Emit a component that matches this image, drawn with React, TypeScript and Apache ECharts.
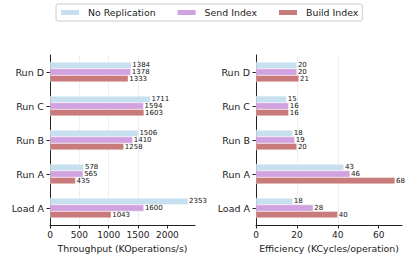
import React, { useEffect, useRef } from "react";
import * as echarts from "echarts";

const categories = ["Load A", "Run A", "Run B", "Run C", "Run D"];
const seriesNames = ["No Replication", "Send Index", "Build Index"];
const throughputNoRep = [2353, 578, 1506, 1711, 1384];
const throughputSend = [1600, 565, 1410, 1594, 1378];
const throughputBuild = [1043, 435, 1258, 1603, 1333];
const efficiencyNoRep = [18, 43, 18, 15, 20];
const efficiencySend = [28, 46, 19, 16, 20];
const efficiencyBuild = [40, 68, 20, 16, 21];
const throughputTicks = [0, 500, 1000, 1500, 2000];
const efficiencyTicks = [0, 20, 40, 60];

const colors = ["#c6e0f0", "#d0a2e0", "#c97a7a"];
const FONT = "DejaVu Sans";

export default function App() {
  const ref = useRef<HTMLDivElement>(null);
  useEffect(() => {
    if (!ref.current) return;
    const chart = echarts.init(ref.current, null, { renderer: "svg" });
    const tp = [throughputNoRep, throughputSend, throughputBuild];
    const ef = [efficiencyNoRep, efficiencySend, efficiencyBuild];
    const tpMax = Math.max(...tp.flat()) * 1.05;
    const efMax = Math.max(...ef.flat()) * 1.05;
    const mkX = (idx: number, max: number, interval: number, ticks: number[], name: string) => ({
      type: "value",
      gridIndex: idx,
      min: 0,
      max,
      interval,
      name,
      nameLocation: "middle",
      nameGap: 19,
      nameTextStyle: { fontFamily: FONT, fontSize: 9.4, color: "#222" },
      axisLine: { show: true, lineStyle: { color: "#222", width: 1 } },
      axisTick: { show: true, length: 3.5, lineStyle: { color: "#222" }, customValues: ticks },
      axisLabel: {
        fontFamily: FONT,
        fontSize: 9,
        color: "#222",
        margin: 5,
        hideOverlap: false,
        customValues: ticks,
        formatter: (v: number) => String(v),
      },
      splitLine: { show: true, showMaxLine: false, lineStyle: { color: "#ebebeb", width: 0.8 } },
    });
    const mkY = (idx: number) => ({
      type: "category",
      gridIndex: idx,
      data: categories,
      axisLine: { show: true, lineStyle: { color: "#222", width: 1 } },
      axisTick: { show: true, length: 3.5, alignWithLabel: true, lineStyle: { color: "#222" } },
      axisLabel: { fontFamily: FONT, fontSize: 9.5, color: "#222", margin: 6 },
      splitLine: { show: false },
    });
    const mkSeries = (idx: number, data: number[][]) =>
      data.map((d, i) => ({
        type: "bar",
        name: seriesNames[i],
        xAxisIndex: idx,
        yAxisIndex: idx,
        data: d,
        barGap: "0%",
        barCategoryGap: "41%",
        itemStyle: { color: colors[i], borderColor: "#fff", borderWidth: 0.4 },
        label: {
          show: true,
          position: "right",
          distance: 1,
          fontFamily: FONT,
          fontSize: 7,
          color: "#111",
        },
      }));
    chart.setOption({
      animation: false,
      legend: {
        data: seriesNames,
        left: 56,
        top: 4,
        padding: [4, 4, 4, 3],
        itemGap: 20,
        itemWidth: 20,
        itemHeight: 7,
        icon: "rect",
        borderColor: "#cccccc",
        borderWidth: 1,
        borderRadius: 2,
        textStyle: { fontFamily: FONT, fontSize: 9.4, color: "#222", padding: [0, 0, 0, 3] },
      },
      grid: [
        { left: 50, top: 55, width: 145, height: 170 },
        { left: 256, top: 55, width: 146, height: 170 },
      ],
      xAxis: [
        mkX(0, tpMax, 500, throughputTicks, "Throughput (KOperations/s)"),
        mkX(1, efMax, 20, efficiencyTicks, "Efficiency (KCycles/operation)"),
      ],
      yAxis: [mkY(0), mkY(1)],
      series: [...mkSeries(0, tp), ...mkSeries(1, ef)],
    });
    return () => chart.dispose();
  }, []);
  return (
    <div
      ref={ref}
      style={{ position: "fixed", left: 0, top: 0, width: 415, height: 277, background: "#fff" }}
    />
  );
}
